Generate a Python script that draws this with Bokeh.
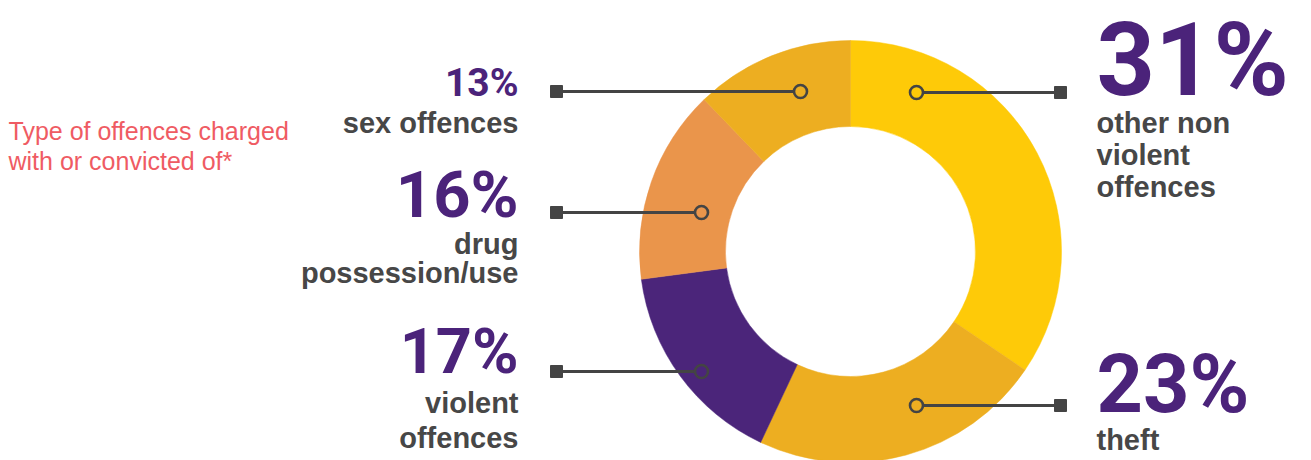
import math
from bokeh.plotting import figure
from bokeh.models import Range1d, ColumnDataSource
from bokeh.core.properties import value
from bokeh.embed import file_html
from bokeh.resources import INLINE

# ---------------- data ----------------
categories = ["other non violent offences", "theft", "violent offences",
              "drug possession/use", "sex offences"]
label_pct = [31, 23, 17, 16, 13]                 # printed percentages
slice_share = [34.5, 22.5, 15.9, 14.9, 12.2]     # slice sizes as drawn
slice_colors = ["#FECA08", "#EDAE21", "#4B257A", "#EA954B", "#EDAE21"]
label_lines = [["other non", "violent", "offences"], ["theft"],
               ["violent", "offences"], ["drug", "possession/use"],
               ["sex offences"]]
title_lines = ["Type of offences charged", "with or convicted of*"]

# ---------------- layout ----------------
W, H = 1311, 460
def Y(ry):
    return H - ry

def TY(baseline, size, k=0.365):
    return Y(baseline - k * size)

CX, CY = 850, Y(251)
R_OUT, R_IN = 211, 125
PURPLE = "#4B237A"
GREY = "#474747"
LINE = "#444444"
FONT = "Liberation Sans"
PFONT = "Roboto"
PK = 0.345

p = figure(width=W, height=H, output_backend="svg",
           toolbar_location=None, x_axis_type=None, y_axis_type=None,
           x_range=Range1d(0, W), y_range=Range1d(0, H),
           min_border=0, outline_line_color=None)
p.grid.visible = False
p.background_fill_color = "white"
p.border_fill_color = "white"

# donut slices (clockwise from 12 o'clock)
total = sum(slice_share)
starts, ends = [], []
acc = 0.0
for s in slice_share:
    a0 = math.pi / 2 - 2 * math.pi * acc / total
    acc += s
    a1 = math.pi / 2 - 2 * math.pi * acc / total
    starts.append(a0)
    ends.append(a1)
src = ColumnDataSource(dict(start=starts, end=ends, color=slice_colors, cat=categories))
p.annular_wedge(x=CX, y=CY, inner_radius=R_IN, outer_radius=R_OUT,
                start_angle="start", end_angle="end", direction="clock",
                fill_color="color", line_color="color", line_width=0.5, source=src)

# connectors: (circle x, row y, square x) per category
conn = {
    "other non violent offences": (916, 92, 1060),
    "theft": (916, 405, 1060),
    "violent offences": (701, 371, 556),
    "drug possession/use": (701, 212, 556),
    "sex offences": (800, 91, 556),
}
for i, c in enumerate(categories):
    cxp, ry, sx = conn[c]
    p.segment(x0=cxp, y0=Y(ry), x1=sx, y1=Y(ry), line_color=LINE, line_width=3)
    p.scatter(x=[sx], y=[Y(ry)], marker="square", size=12,
              fill_color=LINE, line_color=LINE)
    p.scatter(x=[cxp], y=[Y(ry)], marker="circle", size=13,
              fill_color=slice_colors[i], line_color=LINE, line_width=2.6)

# labels: (x, align, pct baseline, pct size, first text baseline, line spacing)
lab = {
    "other non violent offences": (1096, "left", 95, 102, 133, 32),
    "theft": (1096, "left", 412, 81, 450, 32),
    "violent offences": (518, "right", 373, 63, 413, 35),
    "drug possession/use": (518, "right", 217, 65, 254, 29),
    "sex offences": (518, "right", 96, 39, 133, 31),
}
for i, c in enumerate(categories):
    x, al, pb, ps, tb, sp = lab[c]
    p.text(x=[x], y=[TY(pb, ps, PK)], text=[f"{label_pct[i]}%"], text_align=al,
           text_baseline="alphabetic", text_font=value(PFONT),
           text_font_style="bold", text_font_size=f"{ps}px", text_color=PURPLE)
    for j, t in enumerate(label_lines[i]):
        p.text(x=[x], y=[TY(tb + j * sp, 29)], text=[t], text_align=al,
               text_baseline="alphabetic", text_font=value(FONT),
               text_font_style="bold", text_font_size="29px", text_color=GREY)

# title
for j, t in enumerate(title_lines):
    p.text(x=[8], y=[TY(140 + j * 30, 25)], text=[t], text_align="left",
           text_baseline="alphabetic", text_font=value(FONT),
           text_font_size="25px", text_color="#EF5B63")

open("out.html", "w").write(file_html(p, INLINE))
